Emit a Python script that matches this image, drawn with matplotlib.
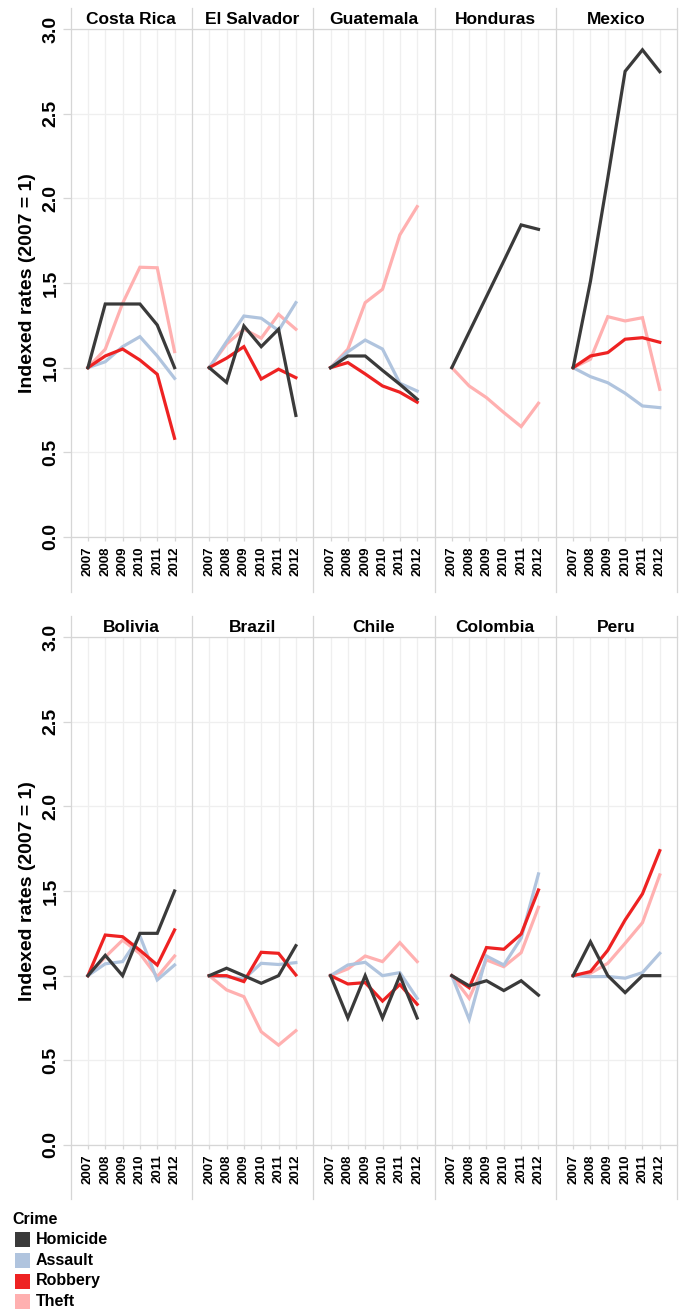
import matplotlib
matplotlib.use("Agg")
import matplotlib.pyplot as plt
from matplotlib.lines import Line2D
from matplotlib.patches import Rectangle

# ---------------- data ----------------
years = [2007, 2008, 2009, 2010, 2011, 2012]
countries = ["Costa Rica", "El Salvador", "Guatemala", "Honduras", "Mexico",
             "Bolivia", "Brazil", "Chile", "Colombia", "Peru"]
crimes = ["Homicide", "Assault", "Robbery", "Theft"]

homicide = [
    [1.0, 1.376, 1.376, 1.376, 1.252, 1.0],     # Costa Rica
    [1.0, 0.913, 1.246, 1.124, 1.227, 0.718],   # El Salvador
    [1.0, 1.069, 1.069, 0.984, 0.902, 0.814],   # Guatemala
    [1.0, 1.21, 1.42, 1.63, 1.843, 1.817],      # Honduras
    [1.0, 1.51, 2.12, 2.75, 2.877, 2.748],      # Mexico
    [1.0, 1.12, 1.0, 1.25, 1.25, 1.50],         # Bolivia
    [1.0, 1.044, 1.0, 0.955, 1.0, 1.177],       # Brazil
    [1.0, 0.75, 1.0, 0.75, 1.0, 0.75],          # Chile
    [1.0, 0.94, 0.97, 0.912, 0.97, 0.885],      # Colombia
    [1.0, 1.2, 1.0, 0.9, 1.0, 1.0],             # Peru
]
assault = [
    [1.0, 1.035, 1.124, 1.183, 1.069, 0.937],
    [1.0, 1.154, 1.305, 1.292, 1.219, 1.384],
    [1.0, 1.094, 1.163, 1.11, 0.908, 0.862],
    None,
    [1.0, 0.947, 0.911, 0.849, 0.774, 0.764],
    [1.0, 1.07, 1.083, 1.234, 0.975, 1.063],
    [1.0, 0.993, 0.98, 1.073, 1.066, 1.077],
    [1.0, 1.063, 1.079, 1.0, 1.018, 0.866],
    [1.0, 0.742, 1.116, 1.063, 1.221, 1.601],
    [1.0, 0.994, 0.995, 0.985, 1.018, 1.132],
]
robbery = [
    [1.0, 1.069, 1.11, 1.045, 0.961, 0.583],
    [1.0, 1.056, 1.124, 0.933, 0.991, 0.941],
    [1.0, 1.03, 0.963, 0.892, 0.855, 0.796],
    None,
    [1.0, 1.069, 1.089, 1.168, 1.177, 1.15],
    [1.0, 1.24, 1.23, 1.15, 1.063, 1.27],
    [1.0, 1.0, 0.965, 1.138, 1.132, 1.004],
    [1.0, 0.951, 0.959, 0.85, 0.948, 0.831],
    [1.0, 0.929, 1.166, 1.156, 1.246, 1.506],
    [1.0, 1.024, 1.15, 1.329, 1.483, 1.738],
]
theft = [
    [1.0, 1.109, 1.38, 1.593, 1.59, 1.095],
    [1.0, 1.14, 1.227, 1.174, 1.315, 1.227],
    [1.0, 1.109, 1.384, 1.463, 1.784, 1.951],
    [1.0, 0.892, 0.823, 0.735, 0.652, 0.79],
    [1.0, 1.05, 1.301, 1.276, 1.295, 0.872],
    [1.0, 1.11, 1.21, 1.13, 0.993, 1.116],
    [1.0, 0.916, 0.876, 0.669, 0.59, 0.675],
    [1.0, 1.04, 1.116, 1.083, 1.195, 1.083],
    [1.0, 0.866, 1.093, 1.053, 1.136, 1.404],
    [1.0, 1.014, 1.073, 1.191, 1.313, 1.595],
]
yticks = [0.0, 0.5, 1.0, 1.5, 2.0, 2.5, 3.0]

# ---------------- style ----------------
colors = {"Homicide": "#3a3a3a", "Assault": "#b0c4de",
          "Robbery": "#ee2222", "Theft": "#ffb0b0"}
series = {"Homicide": homicide, "Assault": assault,
          "Robbery": robbery, "Theft": theft}
draw_order = ["Theft", "Assault", "Robbery", "Homicide"]

plt.rcParams["font.family"] = ["Liberation Sans", "DejaVu Sans"]

W, H = 681, 1313
fig = plt.figure(figsize=(W / 100, H / 100), dpi=100)


def fx(x):
    return x / W


def fy(y):
    return 1 - y / H


col_x = [70.6, 191.9, 313.2, 434.5, 555.8, 677.1]
blocks = [dict(strip_top=8, plot_top=29, plot_bot=537, line_bot=592),
          dict(strip_top=616, plot_top=637, plot_bot=1145, line_bot=1199)]
border_c = "#d6d6d6"
grid_c = "#efefef"

for b, blk in enumerate(blocks):
    for c in range(5):
        idx = b * 5 + c
        ax = fig.add_axes([fx(col_x[c]), fy(blk["plot_bot"]),
                           (col_x[c + 1] - col_x[c]) / W,
                           (blk["plot_bot"] - blk["plot_top"]) / H])
        for name in draw_order:
            vals = series[name][idx]
            if vals is None:
                continue
            ax.plot(years, vals, color=colors[name], lw=2.3,
                    solid_joinstyle="miter", zorder=3)
        ax.set_xlim(2006, 2013)
        ax.set_ylim(0, 3.0)
        ax.set_xticks(years)
        ax.set_xticklabels([str(y) for y in years], rotation=90,
                           fontsize=9.5, fontweight="bold")
        ax.set_yticks(yticks)
        ax.grid(True, color=grid_c, lw=0.9, zorder=0)
        ax.set_axisbelow(True)
        for s in ["left", "right"]:
            ax.spines[s].set_visible(False)
        for s in ["top", "bottom"]:
            ax.spines[s].set_color(border_c)
            ax.spines[s].set_linewidth(0.9)
        ax.tick_params(axis="x", length=3, color=border_c, pad=4, width=0.9)
        if c == 0:
            ax.set_yticklabels(["%.1f" % v for v in yticks], rotation=90,
                               va="center", fontsize=14, fontweight="bold")
            ax.tick_params(axis="y", length=6, color=border_c, pad=2,
                           width=0.9)
        else:
            ax.tick_params(axis="y", length=0, labelleft=False)
        # strip title
        fig.text(fx((col_x[c] + col_x[c + 1]) / 2),
                 fy(blk["strip_top"] + 11), countries[idx],
                 ha="center", va="center", fontsize=12.5, fontweight="bold")
    # column borders
    for x in col_x:
        fig.add_artist(Line2D([fx(x), fx(x)],
                              [fy(blk["strip_top"]), fy(blk["line_bot"])],
                              color=border_c, lw=0.9))
    # y label
    fig.text(fx(27), fy((blk["plot_top"] + blk["plot_bot"]) / 2),
             "Indexed rates (2007 = 1)", rotation=90, ha="center",
             va="center", fontsize=14, fontweight="bold")

# ---------------- legend ----------------
fig.text(fx(12), fy(1219), "Crime", ha="left", va="center",
         fontsize=11.5, fontweight="bold")
leg_y = [1239.5, 1260.2, 1281.0, 1301.8]
for name, yc in zip(crimes, leg_y):
    fig.add_artist(Rectangle((fx(15), fy(yc + 7.5)), 15 / W, 15 / H,
                             transform=fig.transFigure,
                             facecolor=colors[name], edgecolor="none"))
    fig.text(fx(36), fy(yc), name, ha="left", va="center",
             fontsize=11.5, fontweight="bold")

fig.savefig("out.png", dpi=100)
